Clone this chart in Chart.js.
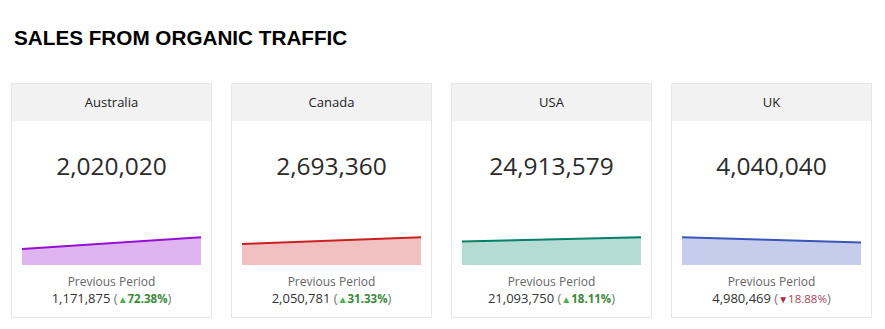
<!DOCTYPE html>
<html>
<head>
<meta charset="utf-8">
<script src="https://cdn.jsdelivr.net/npm/chart.js@4"></script>
<style>
  body { margin: 0; background: #fff; width: 885px; height: 329px; overflow: hidden; position: relative; }
  h1 { position: absolute; left: 14px; top: 27px; margin: 0; font: bold 20.7px/21px "Liberation Sans", Arial, sans-serif; color: #000; }
  .tarjeta { position: absolute; top: 83px; width: 199px; height: 233px; border: 1px solid #e6e6e6; background: #fff; font-family: "Open Sans", sans-serif; }
  .cabecera { position: absolute; left: 0; top: 0; width: 100%; height: 37px; line-height: 37px; background: #f2f2f2; text-align: center; font-size: 13px; color: #222; }
  .total { position: absolute; left: 0; top: 67px; width: 100%; line-height: 30px; text-align: center; font-size: 24.5px; color: #2b2b2b; }
  .mini { position: absolute; left: 10px; top: 134px; width: 179px; height: 47px; }
  .previo { position: absolute; left: 0; top: 190px; width: 100%; line-height: 16px; text-align: center; font-size: 12px; color: #666; }
  .valor { position: absolute; left: 0; top: 206px; width: 100%; line-height: 16px; text-align: center; font-size: 13px; color: #333; }
  .valor .par { color: #777; }
  .sube { color: #3b8a3b; font-weight: bold; font-size: 11.5px; }
  .sube i { color: #4caf50; font-style: normal; font-size: 10px; }
  .baja { color: #a8485a; font-size: 11.5px; }
  .baja i { color: #b02a3a; font-style: normal; font-size: 10px; }
</style>
</head>
<body>
<h1>SALES FROM ORGANIC TRAFFIC</h1>
<script>
// ventas por pais: periodo anterior y actual
const paises = ["Australia", "Canada", "USA", "UK"];
const ventasActuales = [2020020, 2693360, 24913579, 4040040];
const ventasPrevias = [1171875, 2050781, 21093750, 4980469];
const variaciones = [72.38, 31.33, 18.11, -18.88];
const periodos = ["Previous Period", "Current Period"];

const coloresLinea = ["#9410d2", "#cc2020", "#008068", "#3a55b8"];
const coloresRelleno = ["#dfb4f1", "#f2c0c0", "#b4dcd5", "#c6cdec"];

function formatear(n) {
  return n.toLocaleString("en-US");
}

function crearTarjeta(i) {
  const tarjeta = document.createElement("div");
  tarjeta.className = "tarjeta";
  tarjeta.style.left = (11 + i * 220) + "px";

  const cambio = variaciones[i];
  const claseCambio = cambio >= 0 ? "sube" : "baja";
  const flecha = cambio >= 0 ? "\u25B2" : "\u25BC";

  tarjeta.innerHTML =
    '<div class="cabecera">' + paises[i] + '</div>' +
    '<div class="total">' + formatear(ventasActuales[i]) + '</div>' +
    '<div class="mini"><canvas></canvas></div>' +
    '<div class="previo">Previous Period</div>' +
    '<div class="valor">' + formatear(ventasPrevias[i]) +
    ' <span class="par">(</span><span class="' + claseCambio + '"><i>' + flecha + '</i>' +
    Math.abs(cambio).toFixed(2) + '%</span><span class="par">)</span></div>';
  document.body.appendChild(tarjeta);

  const maximo = Math.max(ventasActuales[i], ventasPrevias[i]);
  new Chart(tarjeta.querySelector("canvas"), {
    type: "line",
    data: {
      labels: periodos,
      datasets: [{
        data: [ventasPrevias[i], ventasActuales[i]],
        borderColor: coloresLinea[i],
        backgroundColor: coloresRelleno[i],
        borderWidth: 2,
        fill: "origin",
        pointRadius: 0,
        tension: 0
      }]
    },
    options: {
      responsive: true,
      maintainAspectRatio: false,
      animation: false,
      clip: false,
      layout: { padding: 0 },
      plugins: { legend: { display: false }, tooltip: { enabled: false } },
      scales: {
        x: { display: false, offset: false },
        y: { display: false, min: 0, max: maximo * 1.7 }
      }
    }
  });
}

paises.forEach((p, i) => crearTarjeta(i));
</script>
</body>
</html>
